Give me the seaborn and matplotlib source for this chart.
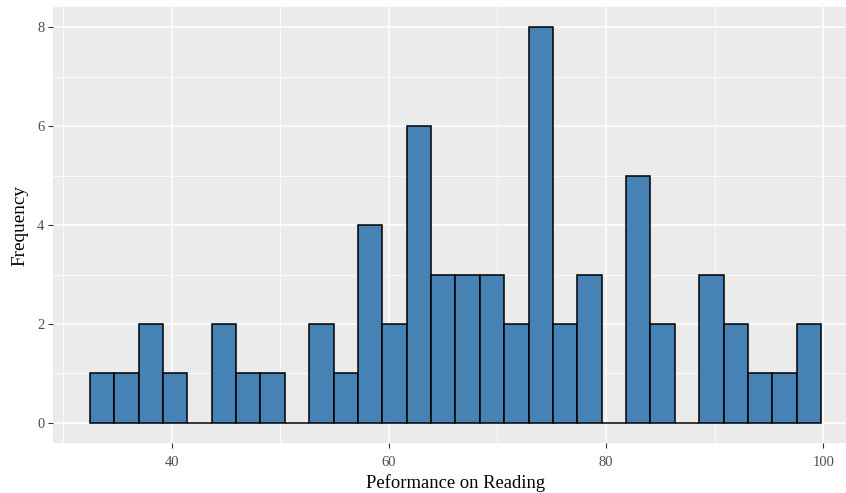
import numpy as np
import pandas as pd
import matplotlib
matplotlib.use("Agg")
import matplotlib.pyplot as plt
import seaborn as sns

# Histogram data (30 bins)
bin_start = 32.48
bin_end = 99.79
counts = [1, 1, 2, 1, 0, 2, 1, 1, 0, 2,
          1, 4, 2, 6, 3, 3, 3, 2, 8, 2,
          3, 0, 5, 2, 0, 3, 2, 1, 1, 2]
x_ticks = [40, 60, 80, 100]
y_ticks = [0, 2, 4, 6, 8]
x_label = "Peformance on Reading"
y_label = "Frequency"

n_bins = len(counts)
width = (bin_end - bin_start) / n_bins
centers = bin_start + width * (np.arange(n_bins) + 0.5)
df = pd.DataFrame({"score": centers, "n": counts})

sns.set_theme(style="darkgrid")
plt.rcParams["font.family"] = ["Liberation Serif", "DejaVu Serif"]

fig = plt.figure(figsize=(8.46, 4.93), dpi=100)
ax = fig.add_axes([0.063, 0.102, 0.9507, 0.883])
ax.set_facecolor("#EBEBEB")

sns.histplot(data=df, x="score", weights="n", binwidth=width,
             binrange=(bin_start, bin_end), ax=ax,
             color="#4682B4", edgecolor="black", linewidth=1.1, alpha=1.0)

ax.set_xlim(bin_start - 0.05 * (bin_end - bin_start), bin_end + 0.05 * (bin_end - bin_start))
ax.set_ylim(-0.4, 8.4)
ax.set_xticks(x_ticks)
ax.set_yticks(y_ticks)
ax.set_xticks([30, 50, 70, 90], minor=True)
ax.set_yticks([1, 3, 5, 7], minor=True)
ax.grid(which="major", color="white", linewidth=1.1)
ax.grid(which="minor", color="white", linewidth=0.55)
ax.set_axisbelow(True)
for s in ax.spines.values():
    s.set_visible(False)
ax.tick_params(axis="both", which="major", length=3.5, width=0.8, color="#333333",
               labelsize=10.5, labelcolor="#4D4D4D", bottom=True, left=True)
ax.tick_params(axis="x", which="major", pad=6)
ax.tick_params(axis="y", which="major", pad=3)
ax.tick_params(axis="both", which="minor", length=0)
ax.set_xlabel(x_label, fontsize=13.4, color="black", labelpad=3.5)
ax.set_ylabel(y_label, fontsize=13.8, color="black", labelpad=6)

fig.savefig("out.png", dpi=100)
